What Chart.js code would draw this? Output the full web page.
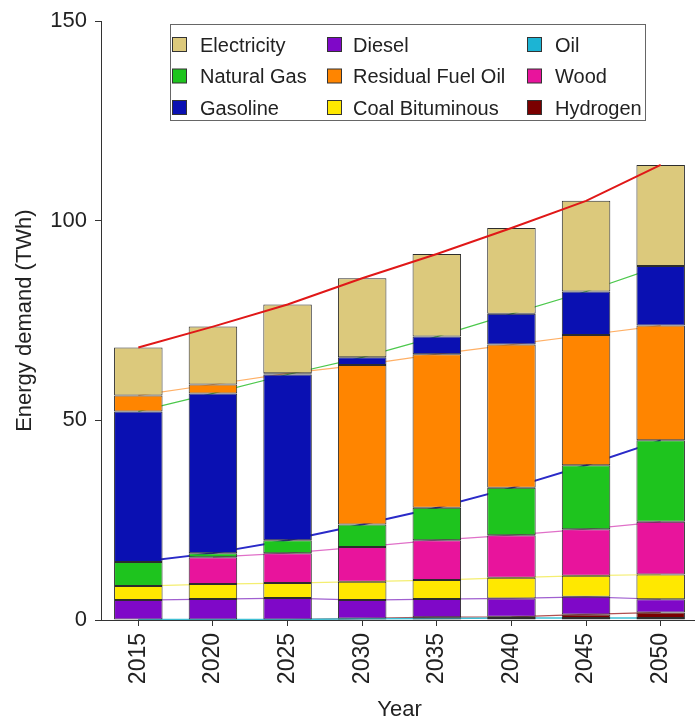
<!DOCTYPE html>
<html><head><meta charset="utf-8">
<script src="https://cdn.jsdelivr.net/npm/chart.js@4.4.1/dist/chart.umd.min.js"></script>
<style>
html,body{margin:0;padding:0;background:#fff;overflow:hidden;width:695px;height:723px}
#wrap{position:absolute;left:0;top:0;width:700px;height:723px}
</style>
</head><body><div id="wrap"><canvas id="c" width="700" height="723"></canvas></div>
<script>
// ---- data (TWh) ----
const years = ['2015','2020','2025','2030','2035','2040','2045','2050'];
const oil         = [0.1, 0.1, 0.1, 0.3, 0.4, 0.5, 0.5, 0.5];
const hydrogen    = [0,   0,   0,   0.1, 0.3, 0.3, 0.9, 1.4];
const diesel      = [4.9, 5.15, 5.4, 4.6, 4.55, 4.6, 4.4, 3.3];
const coal        = [3.5, 3.75, 3.75, 4.6, 4.75, 5.2, 5.3, 6.2];
const wood        = [null, 6.75, 7.5, 8.7, 10, 10.65, 11.65, 13.2];
const naturalGas  = [6, 1, 3.25, 5.6, 8.1, 11.85, 16, 20.4];
const gasoline    = [37.75, 40, 41.5, 1.9, 4.4, 7.7, 10.9, 14.95];
const residual    = [4, 2.25, 0.3, 40, 38.5, 35.9, 32.65, 28.75];
const electricity = [12, 14.5, 17.25, 19.8, 20.7, 21.5, 22.7, 25.3];
const yTicks = [0, 50, 100, 150];

const values = {
  'Oil': oil, 'Hydrogen': hydrogen, 'Diesel': diesel, 'Coal Bituminous': coal,
  'Wood': wood, 'Natural Gas': naturalGas, 'Gasoline': gasoline,
  'Residual Fuel Oil': residual, 'Electricity': electricity
};
// legend order (column-major, 3 columns)
const legendOrder = ['Electricity','Natural Gas','Gasoline','Diesel','Residual Fuel Oil','Coal Bituminous','Oil','Wood','Hydrogen'];
// base stacking order, bottom to top
const stackBase = ['Oil','Hydrogen','Diesel','Coal Bituminous','Wood','Natural Gas','Gasoline','Residual Fuel Oil','Electricity'];

// ---- styles ----
const style = {
  'Electricity':       {fill:'#dcc97c', line:'#e01818', lw:2},
  'Natural Gas':       {fill:'#1ec41e', line:'#2a2ac8', lw:2},
  'Gasoline':          {fill:'#0a10b2', line:'#4cc84c', lw:1.2},
  'Diesel':            {fill:'#7f08c8', line:'#a060d0', lw:1.2},
  'Residual Fuel Oil': {fill:'#ff8500', line:'#ffb066', lw:1.2},
  'Coal Bituminous':   {fill:'#ffe800', line:'#f4ee70', lw:1.2},
  'Oil':               {fill:'#1cb4d4', line:'#40c0d4', lw:1.5},
  'Wood':              {fill:'#e8149c', line:'#e070c8', lw:1.2},
  'Hydrogen':          {fill:'#7a0000', line:'#b05050', lw:1.2}
};
const FONT = '"Liberation Sans", Arial, Helvetica, sans-serif';
const TXT = '#222';

function orderFor(i){
  const o = stackBase.slice();
  if (residual[i] > gasoline[i]) {
    const a = o.indexOf('Gasoline'), b = o.indexOf('Residual Fuel Oil');
    o[a] = 'Residual Fuel Oil'; o[b] = 'Gasoline';
  }
  return o;
}
const ranges = {}, tops = {};
stackBase.forEach(n => { ranges[n] = []; tops[n] = []; });
years.forEach((y, i) => {
  let acc = 0;
  orderFor(i).forEach(n => {
    const v = values[n][i];
    if (v === null) { ranges[n][i] = null; tops[n][i] = null; return; }
    ranges[n][i] = v > 0 ? [acc, acc + v] : null;
    acc += v;
    tops[n][i] = acc;
  });
});

const datasets = [];
stackBase.forEach(n => {
  datasets.push({
    type:'bar', label:n, data:ranges[n], backgroundColor:style[n].fill,
    borderColor:'#2d2d2d', borderWidth:1, borderSkipped:false, grouped:false,
    barPercentage:0.65, categoryPercentage:1, order:1
  });
});
stackBase.forEach(n => {
  datasets.push({
    type:'line', label:n + ' trend', data:tops[n], borderColor:style[n].line,
    borderWidth:style[n].lw, pointRadius:0, fill:false, tension:0, spanGaps:false,
    order: n === 'Electricity' ? 0 : 2
  });
});

const legendPlugin = {
  id:'gridLegend',
  afterDraw(chart){
    const ctx = chart.ctx;
    ctx.save();
    const bx = 170.5, by = 24.5, bw = 475, bh = 96;
    ctx.fillStyle = '#fff';
    ctx.fillRect(bx, by, bw, bh);
    ctx.strokeStyle = '#666'; ctx.lineWidth = 1;
    ctx.strokeRect(bx, by, bw, bh);
    const colSw = [172, 327, 527], colTx = [200, 353, 555], rowY = [45, 76.5, 108];
    ctx.font = '20px ' + FONT;
    ctx.textBaseline = 'middle'; ctx.textAlign = 'left';
    legendOrder.forEach((n, k) => {
      const c = Math.floor(k / 3), r = k % 3;
      ctx.fillStyle = style[n].fill;
      ctx.fillRect(colSw[c] + 0.5, rowY[r] - 7.5, 14, 14);
      ctx.strokeStyle = '#333';
      ctx.strokeRect(colSw[c] + 0.5, rowY[r] - 7.5, 14, 14);
      ctx.fillStyle = TXT;
      ctx.fillText(n, colTx[c], rowY[r] + 1);
    });
    ctx.restore();
  }
};

new Chart(document.getElementById('c'), {
  data:{ labels:years, datasets },
  options:{
    responsive:false, animation:false, devicePixelRatio:1,
    layout:{ padding:{ left:0, top:20, right:2, bottom:0 } },
    plugins:{ legend:{display:false}, tooltip:{enabled:false} },
    scales:{
      x:{
        type:'category', offset:true,
        grid:{ display:true, drawOnChartArea:false, drawTicks:true, tickLength:6, color:'#333', offset:false },
        border:{ display:true, color:'#333', width:1 },
        ticks:{ minRotation:90, maxRotation:90, padding:7, color:TXT, font:{ size:23, family:FONT } },
        title:{ display:true, text:'Year', color:TXT, font:{ size:22, family:FONT }, padding:{ top:0, bottom:0 } },
        afterFit(s){ s.height = 103; }
      },
      y:{
        min:0, max:150,
        afterBuildTicks(s){ s.ticks = yTicks.map(v => ({ value:v })); },
        grid:{ display:true, drawOnChartArea:false, drawTicks:true, tickLength:6, color:'#333' },
        border:{ display:true, color:'#333', width:1 },
        ticks:{ padding:8, color:TXT, font:{ size:22, family:FONT } },
        title:{ display:true, text:'Energy demand (TWh)', color:TXT, font:{ size:22, family:FONT }, padding:{ top:12, bottom:0 } },
        afterFit(s){ s.width = 101; }
      }
    }
  },
  plugins:[legendPlugin]
});
</script>
</body></html>
